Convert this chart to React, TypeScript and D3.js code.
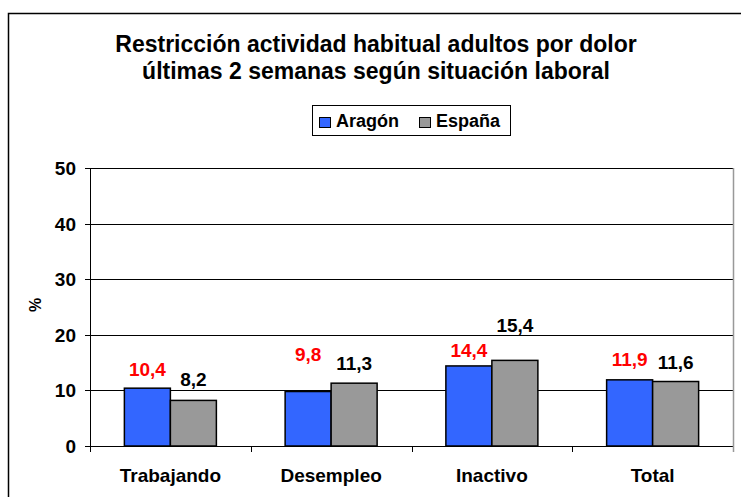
import * as d3 from "d3";

const categories = ["Trabajando", "Desempleo", "Inactivo", "Total"];
const series = ["Aragón", "España"];
const aragon = [10.4, 9.8, 14.4, 11.9];
const espana = [8.2, 11.3, 15.4, 11.6];
const yTicks = [0, 10, 20, 30, 40, 50];
const colors = ["#3366ff", "#999999"];
const labelColors = ["#ff0000", "#000000"];
// label gap above each bar (px), as placed in the original
const labelLift = [
  [12, 31, 9, 14],
  [14, 13, 28, 13],
];

const W = 741;
const H = 497;
const margin = { top: 168, right: 8, bottom: 51, left: 90 };
const font = "Liberation Sans, Arial, sans-serif";

export default function App() {
  const x = d3.scaleBand(categories, [margin.left, W - margin.right]);
  const y = d3.scaleLinear([0, 50], [H - margin.bottom, margin.top]);
  const bw = x.bandwidth();
  const barW = 46;
  const x1 = d3.scaleBand(series, [bw / 2 - barW, bw / 2 + barW]);
  const values = [aragon, espana];
  const fmt = (v: number) => v.toFixed(1).replace(".", ",");
  const legendX = [319, 419];

  return (
    <svg width={W} height={H} style={{ position: "absolute", left: 0, top: 0 }} fontFamily={font}>
      <rect x={0} y={0} width={W} height={H} fill="#fff" />
      <rect x={8.5} y={13.5} width={W + 10} height={H} fill="none" stroke="#000" strokeWidth={1.5} />

      <text x={376} y={52} textAnchor="middle" fontSize={23} fontWeight="bold">
        Restricción actividad habitual adultos por dolor
      </text>
      <text x={376} y={79} textAnchor="middle" fontSize={23} fontWeight="bold">
        últimas 2 semanas según situación laboral
      </text>

      {/* legend */}
      <rect x={312.5} y={105.5} width={198} height={30} fill="#fff" stroke="#000" />
      {series.map((s, i) => (
        <g key={s}>
          <rect x={legendX[i] + 0.5} y={117.5} width={11} height={10} fill={colors[i]} stroke="#000" />
          <text x={legendX[i] + 17} y={127} fontSize={18} fontWeight="bold">{s}</text>
        </g>
      ))}

      {/* gridlines and y axis */}
      {yTicks.map((t) => (
        <g key={t}>
          <line x1={margin.left - 5} x2={W - margin.right} y1={Math.round(y(t)) + 0.5} y2={Math.round(y(t)) + 0.5} stroke="#000" />
          <text x={76} y={y(t) + 7} textAnchor="end" fontSize={19} fontWeight="bold">{t}</text>
        </g>
      ))}
      <line x1={W - margin.right + 0.5} x2={W - margin.right + 0.5} y1={margin.top} y2={H - margin.bottom + 6} stroke="#999" strokeWidth={1.5} />
      <line x1={margin.left + 0.5} x2={margin.left + 0.5} y1={margin.top} y2={H - margin.bottom + 6} stroke="#000" />
      {categories.slice(1).map((c) => (
        <line key={c} x1={Math.round(x(c)!) + 0.5} x2={Math.round(x(c)!) + 0.5} y1={H - margin.bottom} y2={H - margin.bottom + 6} stroke="#000" />
      ))}

      <text transform={`translate(41,305) rotate(-90)`} textAnchor="middle" fontSize={16} fontWeight="bold">%</text>

      {categories.map((c, ci) => (
        <g key={c} transform={`translate(${x(c)},0)`}>
          {series.map((s, si) => {
            const v = values[si][ci];
            const bx = x1(s)!;
            return (
              <g key={s}>
                <rect x={bx} y={y(v)} width={x1.bandwidth()} height={y(0) - y(v)} fill={colors[si]} stroke="#000" strokeWidth={1.5} />
                <text x={bx + x1.bandwidth() / 2} y={y(v) - labelLift[si][ci]} textAnchor="middle" fontSize={19} fontWeight="bold" fill={labelColors[si]}>{fmt(v)}</text>
              </g>
            );
          })}
          <text x={bw / 2} y={482} textAnchor="middle" fontSize={19} fontWeight="bold">{c}</text>
        </g>
      ))}
    </svg>
  );
}
